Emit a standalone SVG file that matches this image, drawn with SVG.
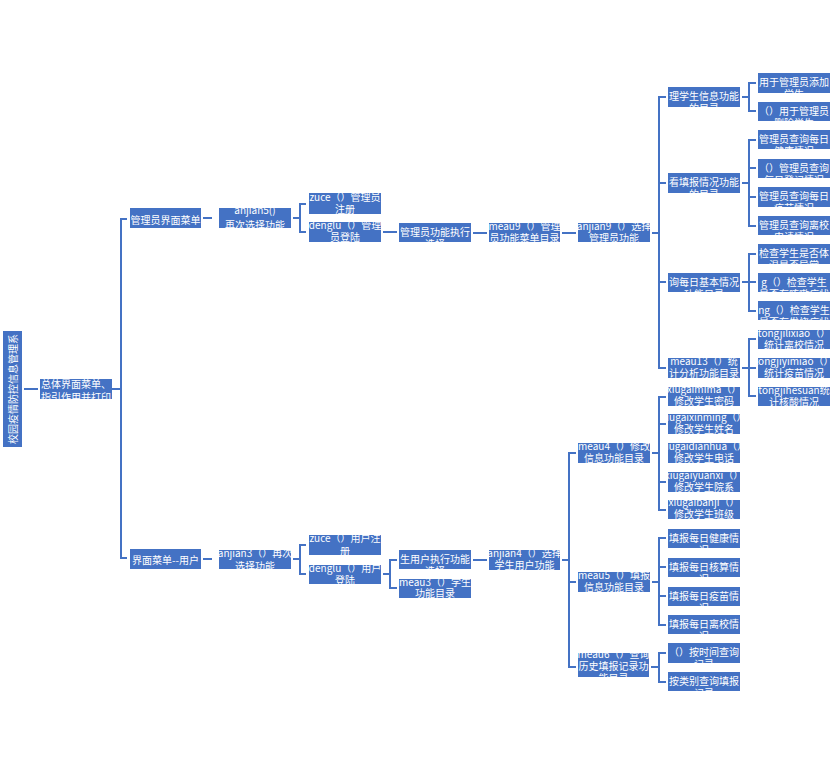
<svg xmlns="http://www.w3.org/2000/svg" width="831" height="764" viewBox="0 0 831 764">
  <style>
    .bx { fill: #4472C4; }
    .tx { fill: #ffffff; font-family: "Noto Sans CJK SC", "Liberation Sans", sans-serif; font-size: 10px; text-anchor: middle; }
    .ln { fill: none; stroke: #4472C4; stroke-width: 2; }
  </style>
  <rect width="831" height="764" fill="#ffffff"/>

  <!-- connectors -->
  <g id="connectors" class="ln">
    <path d="M24,389 H38"/>
    <path d="M112,389 H121"/>
    <path d="M127,219 H121 V558 H127"/>
    <!-- admin branch -->
    <path d="M203,218 H212"/>
    <path d="M293,218 H300"/>
    <path d="M306,204 H300 V232 H306"/>
    <path d="M383,232 H397"/>
    <path d="M473,233 H487"/>
    <path d="M562,233 H576"/>
    <path d="M652,233 H659"/>
    <path d="M666,97 H659 V368 H666"/>
    <path d="M659,183 H666"/>
    <path d="M659,282 H666"/>
    <path d="M742,97 H749"/>
    <path d="M756,83 H749 V111 H756"/>
    <path d="M742,183 H749"/>
    <path d="M756,140 H749 V226 H756"/>
    <path d="M749,168 H756"/>
    <path d="M749,197 H756"/>
    <path d="M742,282 H749"/>
    <path d="M756,254 H749 V311 H756"/>
    <path d="M749,282 H756"/>
    <path d="M742,368 H749"/>
    <path d="M756,339 H749 V396 H756"/>
    <path d="M749,368 H756"/>
    <!-- user branch -->
    <path d="M203,559 H212"/>
    <path d="M293,559 H300"/>
    <path d="M306,545 H300 V574 H306"/>
    <path d="M383,574 H390"/>
    <path d="M397,560 H390 V588 H397"/>
    <path d="M473,560 H487"/>
    <path d="M562,560 H569"/>
    <path d="M576,453 H569 V667 H576"/>
    <path d="M569,582 H576"/>
    <path d="M652,453 H659"/>
    <path d="M666,397 H659 V510 H666"/>
    <path d="M659,424 H666"/>
    <path d="M659,482 H666"/>
    <path d="M652,582 H659"/>
    <path d="M666,538 H659 V625 H666"/>
    <path d="M659,567 H666"/>
    <path d="M659,596 H666"/>
    <path d="M651,667 H659"/>
    <path d="M666,653 H659 V682 H666"/>
  </g>

  <!-- root (vertical title) -->
  <g id="root">
    <svg x="3" y="331" width="19" height="116">
      <rect class="bx" width="19" height="116"/>
      <text class="tx" transform="translate(13.5,58) rotate(-90)">校园疫情防控信息管理系</text>
    </svg>
  </g>

  <g id="main">
    <svg x="40" y="379" width="72" height="20"><rect class="bx" width="72" height="20"/>
      <text class="tx" x="36" y="9">总体界面菜单、</text><text class="tx" x="36" y="21.5">指引作用并打印</text></svg>
  </g>

  <!-- administrator side -->
  <g id="admin-menu">
    <svg x="130" y="208" width="71" height="20"><rect class="bx" width="71" height="20"/>
      <text class="tx" x="35.5" y="16">管理员界面菜单</text></svg>
  </g>
  <g id="admin-anjian5">
    <svg x="219" y="208" width="72" height="20"><rect class="bx" width="72" height="20"/>
      <text class="tx" x="36" y="5.5">anjian5()</text><text class="tx" x="36" y="21">再次选择功能</text></svg>
  </g>
  <g id="admin-zuce">
    <svg x="309" y="193" width="72" height="21"><rect class="bx" width="72" height="21"/>
      <text class="tx" x="36" y="7.5">zuce（）管理员</text><text class="tx" x="36" y="20">注册</text></svg>
  </g>
  <g id="admin-denglu">
    <svg x="309" y="222" width="72" height="20"><rect class="bx" width="72" height="20"/>
      <text class="tx" x="36" y="7">denglu（）管理</text><text class="tx" x="36" y="19">员登陆</text></svg>
  </g>
  <g id="admin-exec">
    <svg x="399" y="223" width="72" height="19"><rect class="bx" width="72" height="19"/>
      <text class="tx" x="36" y="13">管理员功能执行</text><text class="tx" x="36" y="25">选择</text></svg>
  </g>
  <g id="meau9">
    <svg x="489" y="223" width="71" height="19"><rect class="bx" width="71" height="19"/>
      <text class="tx" x="35.5" y="6.5">meau9（）管理</text><text class="tx" x="35.5" y="18.5">员功能菜单目录</text></svg>
  </g>
  <g id="anjian9">
    <svg x="578" y="223" width="72" height="19"><rect class="bx" width="72" height="19"/>
      <text class="tx" x="36" y="6.5">anjian9（）选择</text><text class="tx" x="36" y="18.5">管理员功能</text></svg>
  </g>

  <g id="admin-students">
    <svg x="668" y="87" width="72" height="20"><rect class="bx" width="72" height="20"/>
      <text class="tx" x="36" y="13">理学生信息功能</text><text class="tx" x="36" y="25">的目录</text></svg>
  </g>
  <g id="admin-reports">
    <svg x="668" y="173" width="72" height="20"><rect class="bx" width="72" height="20"/>
      <text class="tx" x="36" y="13">看填报情况功能</text><text class="tx" x="36" y="25">的目录</text></svg>
  </g>
  <g id="admin-daily">
    <svg x="668" y="273" width="72" height="19"><rect class="bx" width="72" height="19"/>
      <text class="tx" x="36" y="12.5">询每日基本情况</text><text class="tx" x="36" y="24.5">功能目录</text></svg>
  </g>
  <g id="meau13">
    <svg x="668" y="358" width="72" height="20"><rect class="bx" width="72" height="20"/>
      <text class="tx" x="36" y="6.5">meau13（）统</text><text class="tx" x="36" y="18.5">计分析功能目录</text></svg>
  </g>

  <g id="add-student">
    <svg x="758" y="73" width="72" height="20"><rect class="bx" width="72" height="20"/>
      <text class="tx" x="36" y="13">用于管理员添加</text><text class="tx" x="36" y="25">学生</text></svg>
  </g>
  <g id="del-student">
    <svg x="758" y="102" width="72" height="19"><rect class="bx" width="72" height="19"/>
      <text class="tx" x="36" y="12.5">（）用于管理员</text><text class="tx" x="36" y="24.5">删除学生</text></svg>
  </g>
  <g id="query-health">
    <svg x="758" y="130" width="72" height="19"><rect class="bx" width="72" height="19"/>
      <text class="tx" x="36" y="12.5">管理员查询每日</text><text class="tx" x="36" y="24.5">健康情况</text></svg>
  </g>
  <g id="query-register">
    <svg x="758" y="159" width="72" height="19"><rect class="bx" width="72" height="19"/>
      <text class="tx" x="36" y="12.5">（）管理员查询</text><text class="tx" x="36" y="24.5">每日登记情况</text></svg>
  </g>
  <g id="query-vaccine">
    <svg x="758" y="187" width="72" height="20"><rect class="bx" width="72" height="20"/>
      <text class="tx" x="36" y="13">管理员查询每日</text><text class="tx" x="36" y="25">疫苗情况</text></svg>
  </g>
  <g id="query-leave">
    <svg x="758" y="216" width="72" height="19"><rect class="bx" width="72" height="19"/>
      <text class="tx" x="36" y="12.5">管理员查询离校</text><text class="tx" x="36" y="24.5">申请情况</text></svg>
  </g>
  <g id="check-temp">
    <svg x="758" y="244" width="72" height="20"><rect class="bx" width="72" height="20"/>
      <text class="tx" x="36" y="13">检查学生是否体</text><text class="tx" x="36" y="25">温是否异常</text></svg>
  </g>
  <g id="check-cough">
    <svg x="758" y="273" width="72" height="19"><rect class="bx" width="72" height="19"/>
      <text class="tx" x="36" y="12.5">g（）检查学生</text><text class="tx" x="36" y="24.5">是否有咳嗽症状</text></svg>
  </g>
  <g id="check-fever">
    <svg x="758" y="301" width="72" height="19"><rect class="bx" width="72" height="19"/>
      <text class="tx" x="36" y="12.5">ng（）检查学生</text><text class="tx" x="36" y="24.5">是否有发烧症状</text></svg>
  </g>
  <g id="tongjilixiao">
    <svg x="758" y="330" width="72" height="19"><rect class="bx" width="72" height="19"/>
      <text class="tx" x="36" y="6.5">tongjilixiao（）</text><text class="tx" x="36" y="18.5">统计离校情况</text></svg>
  </g>
  <g id="tongjiyimiao">
    <svg x="758" y="358" width="72" height="20"><rect class="bx" width="72" height="20"/>
      <text class="tx" x="36" y="6.5">tongjiyimiao（）</text><text class="tx" x="36" y="18.5">统计疫苗情况</text></svg>
  </g>
  <g id="tongjihesuan">
    <svg x="758" y="387" width="72" height="19"><rect class="bx" width="72" height="19"/>
      <text class="tx" x="36" y="6.5">tongjihesuan统</text><text class="tx" x="36" y="18.5">计核酸情况</text></svg>
  </g>

  <!-- student user side -->
  <g id="user-menu">
    <svg x="130" y="549" width="71" height="20"><rect class="bx" width="71" height="20"/>
      <text class="tx" x="35.5" y="15">界面菜单--用户</text></svg>
  </g>
  <g id="user-anjian3">
    <svg x="219" y="550" width="72" height="19"><rect class="bx" width="72" height="19"/>
      <text class="tx" x="36" y="7">anjian3（）再次</text><text class="tx" x="36" y="19.5">选择功能</text></svg>
  </g>
  <g id="user-zuce">
    <svg x="309" y="535" width="72" height="20"><rect class="bx" width="72" height="20"/>
      <text class="tx" x="36" y="7">zuce（）用户注</text><text class="tx" x="36" y="20">册</text></svg>
  </g>
  <g id="user-denglu">
    <svg x="309" y="565" width="72" height="19"><rect class="bx" width="72" height="19"/>
      <text class="tx" x="36" y="7">denglu（）用户</text><text class="tx" x="36" y="19">登陆</text></svg>
  </g>
  <g id="user-exec">
    <svg x="399" y="550" width="72" height="19"><rect class="bx" width="72" height="19"/>
      <text class="tx" x="36" y="13">生用户执行功能</text><text class="tx" x="36" y="25">选择</text></svg>
  </g>
  <g id="meau3">
    <svg x="399" y="579" width="72" height="19"><rect class="bx" width="72" height="19"/>
      <text class="tx" x="36" y="6.5">meau3（）学生</text><text class="tx" x="36" y="18">功能目录</text></svg>
  </g>
  <g id="anjian4">
    <svg x="489" y="550" width="71" height="20"><rect class="bx" width="71" height="20"/>
      <text class="tx" x="35.5" y="7">anjian4（）选择</text><text class="tx" x="35.5" y="19">学生用户功能</text></svg>
  </g>
  <g id="meau4">
    <svg x="578" y="443" width="72" height="20"><rect class="bx" width="72" height="20"/>
      <text class="tx" x="36" y="6.5">meau4（）修改</text><text class="tx" x="36" y="18.5">信息功能目录</text></svg>
  </g>
  <g id="meau5">
    <svg x="578" y="572" width="72" height="20"><rect class="bx" width="72" height="20"/>
      <text class="tx" x="36" y="6.5">meau5（）填报</text><text class="tx" x="36" y="18.5">信息功能目录</text></svg>
  </g>
  <g id="meau6">
    <svg x="578" y="653" width="71" height="24"><rect class="bx" width="71" height="24"/>
      <text class="tx" x="35.5" y="4.5">meau6（）查询</text><text class="tx" x="35.5" y="16.5">历史填报记录功</text><text class="tx" x="35.5" y="28.5">能目录</text></svg>
  </g>

  <g id="xiugaimima">
    <svg x="668" y="387" width="72" height="19"><rect class="bx" width="72" height="19"/>
      <text class="tx" x="36" y="6">xiugaimima（）</text><text class="tx" x="36" y="18">修改学生密码</text></svg>
  </g>
  <g id="xiugaixinming">
    <svg x="668" y="414" width="72" height="20"><rect class="bx" width="72" height="20"/>
      <text class="tx" x="36" y="6.5">xiugaixinming（）</text><text class="tx" x="36" y="18.5">修改学生姓名</text></svg>
  </g>
  <g id="xiugaidianhua">
    <svg x="668" y="443" width="72" height="20"><rect class="bx" width="72" height="20"/>
      <text class="tx" x="36" y="6.5">xiugaidianhua（）</text><text class="tx" x="36" y="18.5">修改学生电话</text></svg>
  </g>
  <g id="xiugaiyuanxi">
    <svg x="668" y="472" width="72" height="20"><rect class="bx" width="72" height="20"/>
      <text class="tx" x="36" y="6.5">xiugaiyuanxi（）</text><text class="tx" x="36" y="18.5">修改学生院系</text></svg>
  </g>
  <g id="xiugaibanji">
    <svg x="668" y="500" width="72" height="19"><rect class="bx" width="72" height="19"/>
      <text class="tx" x="36" y="6">xiugaibanji（）</text><text class="tx" x="36" y="18">修改学生班级</text></svg>
  </g>
  <g id="fill-health">
    <svg x="668" y="529" width="72" height="19"><rect class="bx" width="72" height="19"/>
      <text class="tx" x="36" y="13">填报每日健康情</text><text class="tx" x="36" y="25">况</text></svg>
  </g>
  <g id="fill-test">
    <svg x="668" y="558" width="72" height="19"><rect class="bx" width="72" height="19"/>
      <text class="tx" x="36" y="13">填报每日核算情</text><text class="tx" x="36" y="25">况</text></svg>
  </g>
  <g id="fill-vaccine">
    <svg x="668" y="587" width="72" height="19"><rect class="bx" width="72" height="19"/>
      <text class="tx" x="36" y="13">填报每日疫苗情</text><text class="tx" x="36" y="25">况</text></svg>
  </g>
  <g id="fill-leave">
    <svg x="668" y="615" width="72" height="19"><rect class="bx" width="72" height="19"/>
      <text class="tx" x="36" y="13">填报每日离校情</text><text class="tx" x="36" y="25">况</text></svg>
  </g>
  <g id="query-by-time">
    <svg x="668" y="643" width="72" height="20"><rect class="bx" width="72" height="20"/>
      <text class="tx" x="36" y="13">（）按时间查询</text><text class="tx" x="36" y="25">记录</text></svg>
  </g>
  <g id="query-by-type">
    <svg x="668" y="672" width="72" height="19"><rect class="bx" width="72" height="19"/>
      <text class="tx" x="36" y="13">按类别查询填报</text><text class="tx" x="36" y="25">记录</text></svg>
  </g>
</svg>
